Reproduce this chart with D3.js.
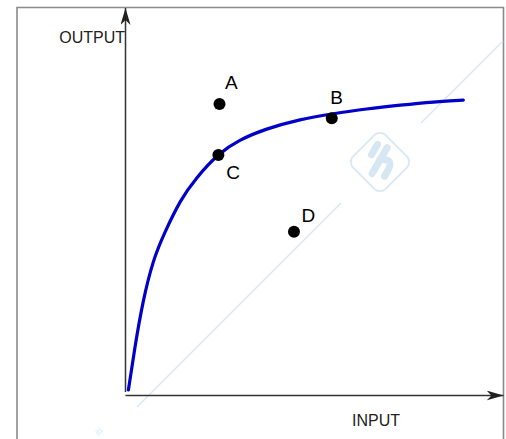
<!DOCTYPE html>
<html>
<head>
<meta charset="utf-8">
<script src="https://cdn.jsdelivr.net/npm/d3@7"></script>
<style>
  body { margin: 0; background: #fff; }
  svg { display: block; font-family: "Liberation Sans", Arial, sans-serif; }
</style>
</head>
<body>
<div id="chart"></div>
<script>
// frame size
const FRAME_WIDTH = 506;
const FRAME_HEIGHT = 439;

// curve (input, output)
const curveInput  = [0.9, 2.6, 4.8, 7.5, 10.6, 14.6, 19.0, 24.7, 30.4, 37.5, 46.3, 54.7, 63.9, 72.8, 81.6, 89.5];
const curveOutput = [1.3, 12.1, 24.0, 34.4, 42.1, 49.9, 56.1, 62.0, 65.8, 68.7, 71.1, 72.6, 73.9, 74.9, 75.7, 76.2];

// labelled points
const pointNames  = ["A", "B", "C", "D"];
const pointInput  = [25.0, 54.7, 24.7, 44.7];
const pointOutput = [75.2, 71.5, 62.0, 42.2];

const axisLabels = ["INPUT", "OUTPUT"];

// scales
const X_SCALE = d3.scaleLinear().domain([0, 100]).range([125, 503]);
const Y_SCALE = d3.scaleLinear().domain([0, 100]).range([395, 8]);

const svg = d3.select("#chart")
  .append("svg")
    .attr("width", FRAME_WIDTH)
    .attr("height", FRAME_HEIGHT);

// outer frame (no bottom edge in the picture)
svg.append("path")
  .attr("d", "M17,440V7.5H503.5V440")
  .attr("fill", "none")
  .attr("stroke", "#8a8a8a")
  .attr("stroke-width", 1.6);

// watermark: faint diagonal line and logo
const WM = "#d6e7f4";
svg.append("line")
  .attr("x1", 137).attr("y1", 407).attr("x2", 341).attr("y2", 203)
  .attr("stroke", WM).attr("stroke-width", 1.2);
svg.append("line")
  .attr("x1", 421).attr("y1", 123).attr("x2", 503).attr("y2", 41)
  .attr("stroke", WM).attr("stroke-width", 1.2);

const logo = svg.append("g").attr("transform", "translate(380,162) rotate(45)");
logo.append("rect")
  .attr("x", -23).attr("y", -23).attr("width", 46).attr("height", 46)
  .attr("rx", 8)
  .attr("fill", "none").attr("stroke", "#dbe9f5").attr("stroke-width", 2);
const glyph = logo.append("g").attr("transform", "rotate(-15)")
  .attr("fill", "none").attr("stroke", "#d6e6f3")
  .attr("stroke-width", 7).attr("stroke-linecap", "round");
glyph.append("path").attr("d", "M-11,-14L-11,-2");
glyph.append("path").attr("d", "M-1,-16L-1,14");
glyph.append("path").attr("d", "M-1,-2Q10,-10 11,2L11,10");

svg.append("text")
  .attr("transform", "translate(98,436) rotate(-40)")
  .attr("font-size", 9)
  .attr("fill", "#dbe9f5")
  .text("iti");

// arrow markers
const defs = svg.append("defs");
defs.append("marker")
  .attr("id", "arrow")
  .attr("viewBox", "0 0 17 10")
  .attr("refX", 17).attr("refY", 5)
  .attr("markerWidth", 17).attr("markerHeight", 10)
  .attr("markerUnits", "userSpaceOnUse")
  .attr("orient", "auto")
  .append("path")
    .attr("d", "M0,0L17,5L0,10L5,5Z")
    .attr("fill", "#222");

// axes drawn with d3 axis generators, no ticks
const xAxis = svg.append("g")
  .attr("transform", "translate(0," + Y_SCALE(0) + ")")
  .call(d3.axisBottom(X_SCALE).tickValues([]).tickSizeOuter(0));
xAxis.select(".domain")
  .attr("stroke", "#333").attr("stroke-width", 1.5)
  .attr("marker-end", "url(#arrow)");

const yAxis = svg.append("g")
  .attr("transform", "translate(" + X_SCALE(0) + ",0)")
  .call(d3.axisLeft(Y_SCALE).tickValues([]).tickSizeOuter(0));
yAxis.select(".domain")
  .attr("stroke", "#333").attr("stroke-width", 1.5)
  .attr("d", "M0.5,392V8")
  .attr("marker-end", "url(#arrow)");

// axis titles
svg.append("text")
  .attr("x", 125).attr("y", 43)
  .attr("text-anchor", "end")
  .attr("font-size", 16)
  .attr("fill", "#222")
  .text(axisLabels[1]);
svg.append("text")
  .attr("x", 352).attr("y", 426)
  .attr("font-size", 16)
  .attr("fill", "#222")
  .text(axisLabels[0]);

// production curve
const curveData = curveInput.map((v, i) => ({x: v, y: curveOutput[i]}));
const line = d3.line()
  .x(d => X_SCALE(d.x))
  .y(d => Y_SCALE(d.y))
  .curve(d3.curveNatural);

svg.append("path")
  .datum(curveData)
  .attr("d", line)
  .attr("fill", "none")
  .attr("stroke", "#0000c8")
  .attr("stroke-width", 3.2)
  .attr("stroke-linecap", "round");

// points and their labels
const points = pointNames.map((n, i) => ({name: n, x: pointInput[i], y: pointOutput[i]}));
const labelOffset = {A: [5.5, -15], B: [-1.5, -14], C: [8, 24], D: [7.5, -9.5]};

svg.selectAll(".pt")
  .data(points)
  .enter().append("circle")
    .attr("class", "pt")
    .attr("cx", d => X_SCALE(d.x))
    .attr("cy", d => Y_SCALE(d.y))
    .attr("r", 6)
    .attr("fill", "#000");

svg.selectAll(".pt-label")
  .data(points)
  .enter().append("text")
    .attr("class", "pt-label")
    .attr("x", d => X_SCALE(d.x) + labelOffset[d.name][0])
    .attr("y", d => Y_SCALE(d.y) + labelOffset[d.name][1])
    .attr("font-size", 19)
    .attr("fill", "#000")
    .text(d => d.name);
</script>
</body>
</html>
